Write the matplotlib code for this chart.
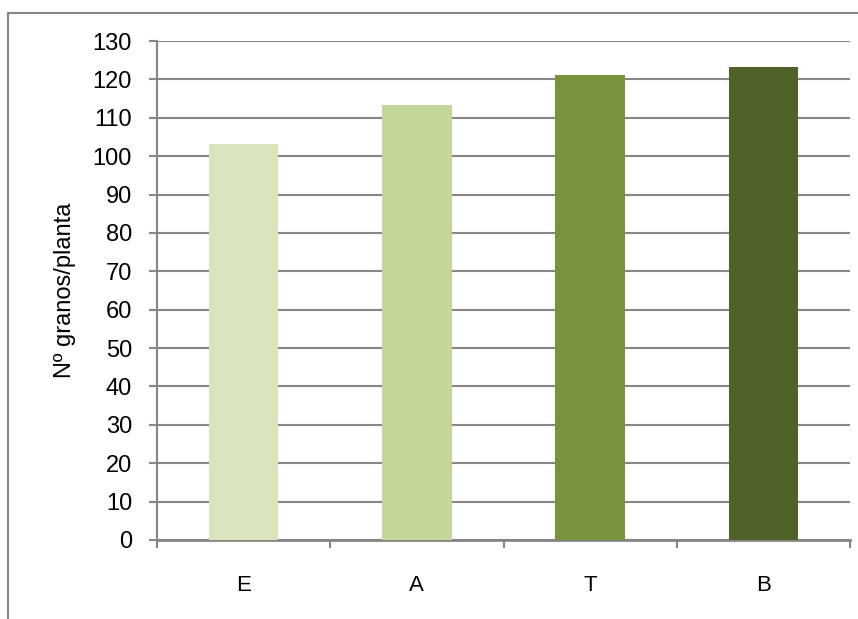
import matplotlib
matplotlib.use("Agg")
from matplotlib import pyplot as plt
from matplotlib.patches import Rectangle

# data
categories = ["E", "A", "T", "B"]
granos = [103.2, 113.3, 121.2, 123.2]
bar_colors = ["#d8e4bc", "#c4d79b", "#77933c", "#4f6228"]

plt.rcParams['font.family'] = ['Liberation Sans', 'DejaVu Sans']

W, H = 858, 619
fig = plt.figure(figsize=(W / 100, H / 100), dpi=100)
ax = fig.add_axes([157 / W, (H - 540) / H, (850 - 157) / W, (540 - 41) / H])

# chart area border (cropped at right/bottom in the reference)
fig.patches.append(Rectangle((8 / W, -0.05), 1.2, (H - 13) / H + 0.05,
                             transform=fig.transFigure, fill=False,
                             edgecolor="#868686", linewidth=1.5))

x = list(range(len(categories)))
ax.bar(x, granos, width=0.4, color=bar_colors, zorder=3)

ax.set_ylim(0, 130)
ax.set_xlim(-0.5, 3.5)
ax.set_yticks(range(0, 131, 10))
ax.yaxis.grid(True, color="#868686", linewidth=1.5, zorder=0)
ax.set_axisbelow(True)

ax.set_xticks(x)
ax.set_xticklabels(categories)
ax.set_xticks([-0.5, 0.5, 1.5, 2.5, 3.5], minor=True)
ax.tick_params(axis="x", which="major", length=0, pad=25, labelsize=16)
ax.tick_params(axis="x", which="minor", length=6, width=1.5, color="#868686", direction="out")
ax.tick_params(axis="y", length=6, width=1.5, color="#868686", labelsize=17, pad=12)

for side in ["top", "right"]:
    ax.spines[side].set_visible(False)
ax.spines["left"].set_color("#868686")
ax.spines["left"].set_linewidth(1.5)
ax.spines["bottom"].set_color("#868686")
ax.spines["bottom"].set_linewidth(2)

ax.set_ylabel("Nº granos/planta", fontsize=17, labelpad=12)

fig.savefig("out.png", dpi=100)
